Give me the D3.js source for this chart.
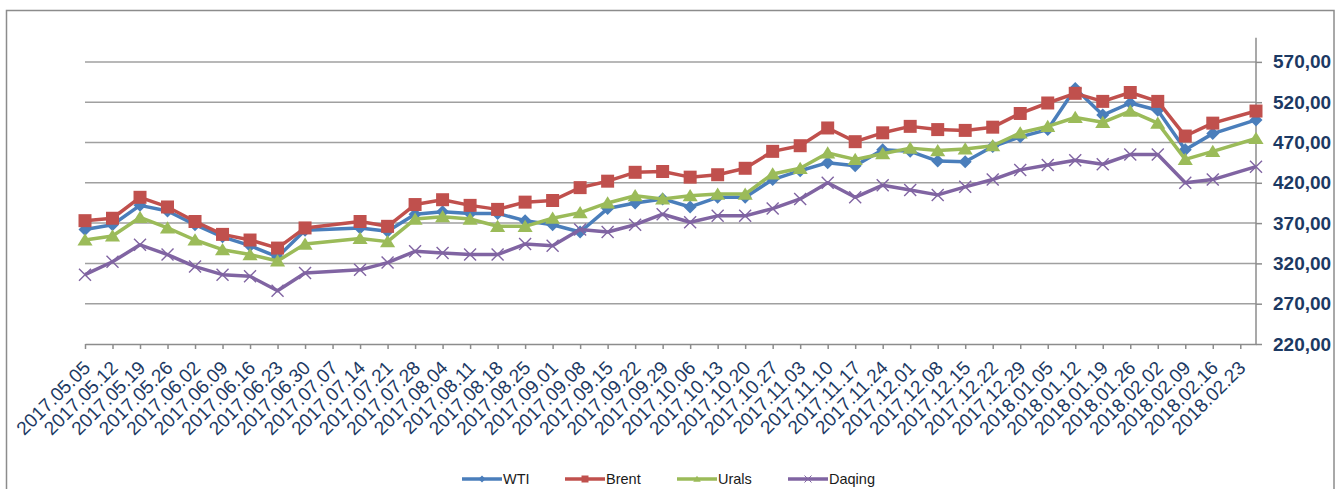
<!DOCTYPE html>
<html>
<head>
<meta charset="utf-8">
<script src="https://cdn.jsdelivr.net/npm/d3@7"></script>
<style>
body{margin:0;background:#fff;}
svg{display:block;font-family:Arial,"Liberation Sans",sans-serif;}
</style>
</head>
<body>
<svg id="chart" width="1339" height="489"></svg>
<script>
// weekly quotes, 07.07 and 02.23 have no values
var dates = ["2017.05.05","2017.05.12","2017.05.19","2017.05.26","2017.06.02","2017.06.09","2017.06.16","2017.06.23","2017.06.30",
	"2017.07.14","2017.07.21","2017.07.28","2017.08.04","2017.08.11","2017.08.18","2017.08.25","2017.09.01","2017.09.08","2017.09.15",
	"2017.09.22","2017.09.29","2017.10.06","2017.10.13","2017.10.20","2017.10.27","2017.11.03","2017.11.10","2017.11.17","2017.11.24",
	"2017.12.01","2017.12.08","2017.12.15","2017.12.22","2017.12.29","2018.01.05","2018.01.12","2018.01.19","2018.01.26","2018.02.02",
	"2018.02.09","2018.02.16","2018.02.27"];
var wti = [362,368,392,385,368,353,342,328,361,364,360,381,384,382,382,373,368,359,388,395,400,390,402,402,424,435,445,441,461,
	459,447,446,465,477,486,537,504,519,510,461,481,498];
var brent = [373,376,402,390,372,356,349,339,364,372,366,393,399,392,387,396,398,414,422,433,434,427,430,438,459,466,488,471,482,
	490,486,485,489,506,519,531,521,532,521,478,494,509];
var urals = [349,354,377,364,349,337,331,323,344,351,347,375,378,375,366,366,376,383,395,404,400,404,406,406,431,438,457,449,456,
	463,460,462,466,482,490,501,495,509,494,449,459,475];
var daqing = [306,322,343,331,316,306,304,286,308,312,321,335,333,331,331,344,342,362,359,368,381,371,379,379,388,400,420,402,417,
	411,405,415,424,436,442,448,443,455,455,420,424,440];
var xTickLabels = ["2017.05.05","2017.05.12","2017.05.19","2017.05.26","2017.06.02","2017.06.09","2017.06.16","2017.06.23","2017.06.30",
	"2017.07.07","2017.07.14","2017.07.21","2017.07.28","2017.08.04","2017.08.11","2017.08.18","2017.08.25","2017.09.01","2017.09.08",
	"2017.09.15","2017.09.22","2017.09.29","2017.10.06","2017.10.13","2017.10.20","2017.10.27","2017.11.03","2017.11.10","2017.11.17",
	"2017.11.24","2017.12.01","2017.12.08","2017.12.15","2017.12.22","2017.12.29","2018.01.05","2018.01.12","2018.01.19","2018.01.26",
	"2018.02.02","2018.02.09","2018.02.16","2018.02.23"];
var yTicks = [220,270,320,370,420,470,520,570];
var seriesNames = ["WTI","Brent","Urals","Daqing"];

var parseDay = d3.timeParse("%Y.%m.%d");
var colors = ["#4a7ebb","#c0504d","#9bbb59","#8064a2"];
var markers = ["diamond","square","triangle","x"];
var values = [wti, brent, urals, daqing];

var svg = d3.select("#chart");
var plotLeft = 85, plotRight = 1256, plotTop = 37.7, plotBottom = 344;
var navy = "#1c3963";

svg.append("rect")
	.attr("x", 6.5).attr("y", 10.5)
	.attr("width", 1327.5).attr("height", 490)
	.attr("fill", "none")
	.attr("stroke", "#8c8c8c")
	.attr("stroke-width", 1.5);

var scaleX = d3.scaleTime()
	.domain([parseDay(dates[0]), parseDay(dates[dates.length - 1])])
	.range([plotLeft, plotRight]);

var scaleY = d3.scaleLinear()
	.domain([220, 600])
	.range([plotBottom, plotTop]);

// grid
svg.append("g")
	.selectAll("line")
	.data(yTicks.slice(1))
	.enter().append("line")
	.attr("x1", plotLeft).attr("x2", plotRight)
	.attr("y1", function(d){ return scaleY(d); })
	.attr("y2", function(d){ return scaleY(d); })
	.attr("stroke", "#a0a0a0")
	.attr("stroke-width", 1.5);

var yAxis = svg.append("g")
	.attr("transform", "translate(" + plotRight + ",0)")
	.call(d3.axisRight(scaleY).tickValues(yTicks).tickSize(6).tickPadding(11)
		.tickFormat(function(d){ return d3.format(".2f")(d).replace(".", ","); }));
yAxis.select(".domain").attr("stroke", "#8c8c8c").attr("stroke-width", 1.5).attr("d", "M0," + plotTop + "V" + plotBottom);
yAxis.selectAll(".tick line").attr("stroke", "#8c8c8c").attr("stroke-width", 1.5);
yAxis.selectAll("text")
	.attr("font-size", 19)
	.attr("font-weight", "bold")
	.attr("font-family", "Arial, 'Liberation Sans', sans-serif")
	.attr("fill", navy);

var xAxis = svg.append("g")
	.attr("transform", "translate(0," + plotBottom + ")")
	.call(d3.axisBottom(scaleX).tickValues(xTickLabels.map(parseDay)).tickSize(5).tickSizeOuter(0)
		.tickFormat(d3.timeFormat("%Y.%m.%d")));
xAxis.select(".domain").attr("stroke", "#8c8c8c").attr("stroke-width", 1.5);
xAxis.selectAll(".tick line").attr("stroke", "#8c8c8c").attr("stroke-width", 1.5);
xAxis.selectAll("text")
	.attr("font-size", 19)
	.attr("font-family", "Arial, 'Liberation Sans', sans-serif")
	.attr("fill", navy)
	.attr("text-anchor", "end")
	.attr("dy", null)
	.attr("y", 0)
	.attr("transform", "translate(6,25) rotate(-45)");

function markerPath(type, r){
	if(type == "diamond"){
		return "M0," + (-r) + "L" + r + ",0L0," + r + "L" + (-r) + ",0Z";
	}else if(type == "square"){
		return "M" + (-r) + "," + (-r) + "H" + r + "V" + r + "H" + (-r) + "Z";
	}else if(type == "triangle"){
		return "M0," + (-r * 0.95) + "L" + (r * 1.08) + "," + (r * 0.8) + "L" + (-r * 1.08) + "," + (r * 0.8) + "Z";
	}
	return "M" + (-r) + "," + (-r) + "L" + r + "," + r + "M" + r + "," + (-r) + "L" + (-r) + "," + r;
}
var markerSize = [6.5, 6.5, 7, 6];

values.forEach(function(vals, s){
	var pts = dates.map(function(d, i){ return {date: parseDay(d), v: vals[i]}; });
	var line = d3.line()
		.x(function(d){ return scaleX(d.date); })
		.y(function(d){ return scaleY(d.v); });
	var g = svg.append("g").attr("class", "series");
	g.append("path")
		.attr("d", line(pts))
		.attr("fill", "none")
		.attr("stroke", colors[s])
		.attr("stroke-width", 3.5)
		.attr("stroke-linejoin", "round");
	g.selectAll(".mk")
		.data(pts)
		.enter().append("path")
		.attr("class", "mk")
		.attr("transform", function(d){ return "translate(" + scaleX(d.date) + "," + scaleY(d.v) + ")"; })
		.attr("d", markerPath(markers[s], markerSize[s]))
		.attr("fill", markers[s] == "x" ? "none" : colors[s])
		.attr("stroke", colors[s])
		.attr("stroke-width", markers[s] == "x" ? 1.4 : 0);
});

// legend
var legendX = [462, 565, 677, 788];
var legend = svg.append("g").attr("transform", "translate(0,479)");
seriesNames.forEach(function(name, s){
	var item = legend.append("g").attr("transform", "translate(" + legendX[s] + ",0)");
	item.append("line")
		.attr("x1", 0).attr("x2", 40)
		.attr("stroke", colors[s])
		.attr("stroke-width", 3.5);
	item.append("path")
		.attr("transform", "translate(20,0)")
		.attr("d", markerPath(markers[s], 3.5))
		.attr("fill", markers[s] == "x" ? "none" : colors[s])
		.attr("stroke", colors[s])
		.attr("stroke-width", markers[s] == "x" ? 1 : 0);
	item.append("text")
		.attr("x", 41)
		.attr("y", 5)
		.attr("font-size", 14.5)
		.attr("fill", "#1a1a1a")
		.text(name);
});
</script>
</body>
</html>
